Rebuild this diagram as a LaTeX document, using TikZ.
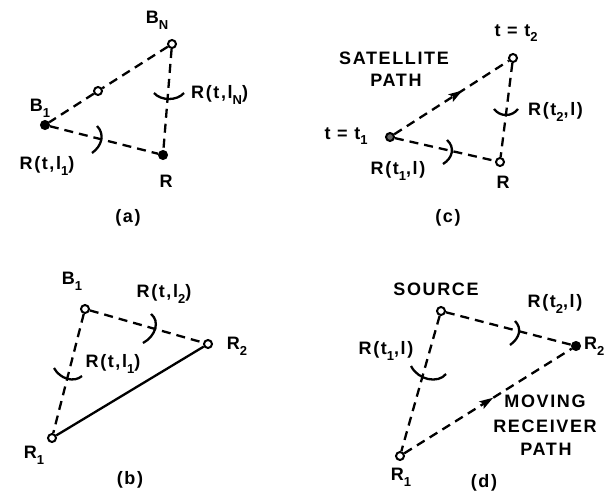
\documentclass[tikz,border=0pt]{standalone}
\usepackage{fontspec}
\setmainfont{Liberation Sans}[LetterSpace=9]
\usetikzlibrary{arrows.meta,decorations.markings}
\newcommand\lsub[1]{\raisebox{-0.6ex}{\fontsize{13}{13}\selectfont #1}}
\tikzset{
  lbl/.style={font=\fontsize{18}{20}\selectfont\bfseries, inner sep=1pt},
  dsh/.style={line width=2.3pt, dash pattern=on 9pt off 6pt},
  sld/.style={line width=2.3pt},
  odot/.style={circle, draw, line width=2pt, fill=white, minimum size=8pt, inner sep=0pt},
  fdot/.style={circle, draw, line width=1pt, fill=black, minimum size=9pt, inner sep=0pt},
  tick/.style={line width=2.3pt},
  midarrow/.style={postaction={decorate, decoration={markings, mark=at position #1 with {\fill[solid] (6pt,0pt) -- (-8pt,4.5pt) -- (-5pt,0pt) -- (-8pt,-4.5pt) -- cycle;}}}}
}
\begin{document}
\begin{tikzpicture}[x=1pt,y=-1pt]
\useasboundingbox (0,0) rectangle (606,493);
% ---------- (a) ----------
\node[odot] (BN) at (172,44) {};
\node[fdot] (B1a) at (45,125) {};
\node[odot] (Ma) at (98,91) {};
\node[fdot] (Ra) at (163,155) {};
\draw[dsh] (BN) -- (Ma) -- (B1a);
\draw[dsh] (B1a) -- (Ra);
\draw[dsh] (BN) -- (Ra);
\node[lbl] (tBN) at (157,20) {B\lsub{N}};
\node[lbl] (tB1a) at (40,108) {B\lsub{1}};
\node[lbl] (tRa) at (166,181) {R};
\node[lbl, anchor=west] (tRtN) at (190,95) {R(t,l\lsub{N})};
\node[lbl] (tRt1a) at (47,166) {R(t,l\lsub{1})};
\draw[tick] (154,93) .. controls (161,101) and (177,101) .. (184,93);
\draw[tick] (97,126) .. controls (105,134) and (102,146) .. (92,153);
\node[lbl] (capa) at (128,218) {(a)};
% ---------- (c) ----------
\node[odot] (P2) at (513,58) {};
\node[odot, fill=black!60] (P1) at (390,137) {};
\node[odot] (Rc) at (500,162) {};
\draw[dsh, midarrow=0.55] (P1) -- (P2);
\draw[dsh] (P1) -- (Rc);
\draw[dsh] (P2) -- (Rc);
\node[lbl] (tt2) at (516,33) {t = t\lsub{2}};
\node[lbl] (tt1) at (346,136) {t = t\lsub{1}};
\node[lbl] (sat) at (394,58) {SATELLITE};
\node[lbl] (path) at (396,80) {PATH};
\node[lbl, anchor=west] (tRt2c) at (527,112) {R(t\lsub{2},l)};
\node[lbl] (tRt1c) at (398,171) {R(t\lsub{1},l)};
\node[lbl] (tRc) at (503,182) {R};
\draw[tick] (494,109) .. controls (500,117) and (512,117) .. (518,109);
\draw[tick] (447,140) .. controls (455,147) and (453,158) .. (443,164);
\node[lbl] (capc) at (448,218) {(c)};
% ---------- (b) ----------
\node[odot] (B1b) at (85,309) {};
\node[odot] (R2b) at (208,344) {};
\node[odot] (R1b) at (52,438) {};
\draw[dsh] (B1b) -- (R2b);
\draw[dsh] (B1b) -- (R1b);
\draw[sld] (R1b) -- (R2b);
\node[lbl] (tB1b) at (72,281) {B\lsub{1}};
\node[lbl] (tR2b) at (237,346) {R\lsub{2}};
\node[lbl] (tR1b) at (34,455) {R\lsub{1}};
\node[lbl] (tRt2b) at (164,294) {R(t,l\lsub{2})};
\node[lbl] (tRt1b) at (113,364) {R(t,l\lsub{1})};
\draw[tick] (151,314) .. controls (160,321) and (156,336) .. (143,343);
\draw[tick] (54,368) .. controls (60,379) and (74,383) .. (82,376);
\node[lbl] (capb) at (130,480) {(b)};
% ---------- (d) ----------
\node[odot] (S) at (441,311) {};
\node[fdot] (R2d) at (576,346) {};
\node[odot] (R1d) at (400,456) {};
\draw[dsh] (S) -- (R2d);
\draw[dsh] (S) -- (R1d);
\draw[dsh, midarrow=0.5] (R1d) -- (R2d);
\node[lbl] (src) at (436,289) {SOURCE};
\node[lbl, anchor=west] (tR2d) at (583,346) {R\lsub{2}};
\node[lbl] (tR1d) at (401,477) {R\lsub{1}};
\node[lbl] (tRt2d) at (555,304) {R(t\lsub{2},l)};
\node[lbl] (tRt1d) at (386,351) {R(t\lsub{1},l)};
\draw[tick] (515,321) .. controls (522,328) and (520,338) .. (510,345);
\draw[tick] (411,366) .. controls (418,380) and (438,384) .. (446,374);
\node[lbl] (mov) at (545,401) {MOVING};
\node[lbl] (rcv) at (545,426) {RECEIVER};
\node[lbl] (pth) at (546,449) {PATH};
\node[lbl] (capd) at (484,483) {(d)};
\end{tikzpicture}
\end{document}
